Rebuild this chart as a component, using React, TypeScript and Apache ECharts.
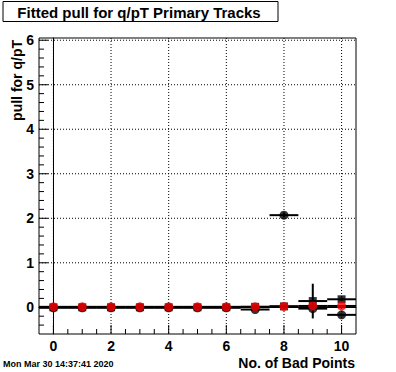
import React, { useEffect, useRef } from "react";
import * as echarts from "echarts";

// ---- data ----
const xBins = [0, 1, 2, 3, 4, 5, 6, 7, 8, 9, 10];
const xHalfWidth = [0.5, 0.5, 0.5, 0.5, 0.5, 0.5, 0.5, 0.5, 0.5, 0.5, 0.5];
const blackCircleMean = [-0.01, -0.01, -0.01, -0.01, -0.01, -0.01, -0.01, -0.05, 2.07, -0.03, -0.17];
const blackCircleErr = [0.01, 0.01, 0.01, 0.01, 0.01, 0.01, 0.01, 0.02, 0.05, 0.03, 0.03];
const blackSquareMean = [0, 0, 0, 0, 0, 0, 0, 0.01, 0.02, 0.14, 0.18];
const blackSquareErr = [0.01, 0.01, 0.01, 0.01, 0.01, 0.01, 0.01, 0.02, 0.03, 0.39, 0.04];
const redMean = [0.01, 0.01, 0.01, 0.01, 0.01, 0.01, 0.01, 0.01, 0.02, 0.03, 0.03];
const redErr = [0.01, 0.01, 0.01, 0.01, 0.01, 0.01, 0.01, 0.01, 0.01, 0.01, 0.01];

// ---- axes ----
const X_MIN = -0.5;
const X_MAX = 10.5;
const Y_MIN = -0.6;
const Y_MAX = 6.05;
const xMajorTicks = [0, 2, 4, 6, 8, 10];
const xMinorTicks = [0.5, 1, 1.5, 2.5, 3, 3.5, 4.5, 5, 5.5, 6.5, 7, 7.5, 8.5, 9, 9.5];
const yMajorTicks = [0, 1, 2, 3, 4, 5, 6];
const yMinorTicks = [
  -0.4, -0.2, 0.2, 0.4, 0.6, 0.8, 1.2, 1.4, 1.6, 1.8, 2.2, 2.4, 2.6, 2.8,
  3.2, 3.4, 3.6, 3.8, 4.2, 4.4, 4.6, 4.8, 5.2, 5.4, 5.6, 5.8,
];

const TITLE = "Fitted pull for q/pT Primary Tracks";
const X_NAME = "No. of Bad Points";
const Y_NAME = "pull for q/pT";
const DATE_TEXT = "Mon Mar 30 14:37:41 2020";

const FONT = "'Liberation Sans', Arial, Helvetica, sans-serif";

function errorSeries(mean: number[], err: number[]) {
  return {
    type: "custom",
    z: 3,
    data: xBins.map((x, i) => [x, mean[i], xHalfWidth[i], err[i]]),
    renderItem: (params: any, api: any) => {
      const x = api.value(0);
      const y = api.value(1);
      const ex = api.value(2);
      const ey = api.value(3);
      const h0 = api.coord([x - ex, y]);
      const h1 = api.coord([x + ex, y]);
      const v0 = api.coord([x, y - ey]);
      const v1 = api.coord([x, y + ey]);
      const style = { stroke: "#000", lineWidth: 2 };
      return {
        type: "group",
        children: [
          { type: "line", shape: { x1: h0[0], y1: h0[1], x2: h1[0], y2: h1[1] }, style },
          { type: "line", shape: { x1: v0[0], y1: v0[1], x2: v1[0], y2: v1[1] }, style },
        ],
      };
    },
  };
}

function xTickSeries(values: number[], len: number, grid: boolean) {
  return {
    type: "custom",
    z: 1,
    silent: true,
    data: values.map((v) => [v, 0]),
    renderItem: (params: any, api: any) => {
      const cs = params.coordSys;
      const p = api.coord([api.value(0), 0]);
      const bottom = cs.y + cs.height;
      const children: any[] = [
        {
          type: "line",
          shape: { x1: p[0], y1: bottom, x2: p[0], y2: bottom - len },
          style: { stroke: "#000", lineWidth: 1 },
        },
      ];
      if (grid) {
        children.push({
          type: "line",
          shape: { x1: p[0], y1: cs.y, x2: p[0], y2: bottom },
          style: { stroke: "#000", lineWidth: 1, lineDash: [1, 2] },
        });
      }
      return { type: "group", children };
    },
  };
}

function yTickSeries(values: number[], len: number, grid: boolean) {
  return {
    type: "custom",
    z: 1,
    silent: true,
    data: values.map((v) => [0, v]),
    renderItem: (params: any, api: any) => {
      const cs = params.coordSys;
      const p = api.coord([0, api.value(1)]);
      const left = cs.x;
      const children: any[] = [
        {
          type: "line",
          shape: { x1: left, y1: p[1], x2: left + len, y2: p[1] },
          style: { stroke: "#000", lineWidth: 1 },
        },
      ];
      if (grid) {
        children.push({
          type: "line",
          shape: { x1: left, y1: p[1], x2: cs.x + cs.width, y2: p[1] },
          style: { stroke: "#000", lineWidth: 1, lineDash: [1, 2] },
        });
      }
      return { type: "group", children };
    },
  };
}

export default function App() {
  const ref = useRef<HTMLDivElement>(null);

  useEffect(() => {
    if (!ref.current) return;
    const chart = echarts.init(ref.current, undefined, { renderer: "svg" });
    const option: any = {
      animation: false,
      backgroundColor: "#fff",
      grid: {
        left: 39,
        right: 40,
        top: 38,
        bottom: 38,
        show: true,
        borderColor: "#000",
        borderWidth: 1,
        backgroundColor: "transparent",
      },
      xAxis: {
        type: "value",
        min: X_MIN,
        max: X_MAX,
        axisLine: { show: true, lineStyle: { color: "#000", width: 1 } },
        axisTick: { show: false },
        splitLine: { show: false },
        axisLabel: {
          customValues: xMajorTicks,
          color: "#000",
          fontFamily: FONT,
          fontWeight: "bold",
          fontSize: 14,
          margin: 5,
        },
      },
      yAxis: {
        type: "value",
        min: Y_MIN,
        max: Y_MAX,
        axisLine: { show: true, lineStyle: { color: "#000", width: 1 } },
        axisTick: { show: false },
        splitLine: { show: false },
        axisLabel: {
          customValues: yMajorTicks,
          color: "#000",
          fontFamily: FONT,
          fontWeight: "bold",
          fontSize: 14,
          margin: 5,
        },
      },
      graphic: [
        {
          type: "rect",
          shape: { x: 3, y: 1.5, width: 275, height: 20 },
          style: { fill: "#fff", stroke: "#000", lineWidth: 1 },
        },
        {
          type: "text",
          x: 139,
          y: 12,
          style: {
            text: TITLE,
            fill: "#000",
            font: `bold 15px ${FONT}`,
            align: "center",
            verticalAlign: "middle",
          },
        },
        {
          type: "text",
          x: 17,
          y: 40,
          rotation: Math.PI / 2,
          style: {
            text: Y_NAME,
            fill: "#000",
            font: `bold 14px ${FONT}`,
            align: "right",
            verticalAlign: "middle",
          },
        },
        {
          type: "text",
          x: 355,
          y: 363,
          style: {
            text: X_NAME,
            fill: "#000",
            font: `bold 14px ${FONT}`,
            align: "right",
            verticalAlign: "middle",
          },
        },
        {
          type: "text",
          x: 3,
          y: 364,
          style: {
            text: DATE_TEXT,
            fill: "#000",
            font: `bold 9px ${FONT}`,
            align: "left",
            verticalAlign: "middle",
          },
        },
      ],
      series: [
        xTickSeries(xMajorTicks, 9, true),
        xTickSeries(xMinorTicks, 5, false),
        yTickSeries(yMajorTicks, 9, true),
        yTickSeries(yMinorTicks, 5, false),
        errorSeries(blackCircleMean, blackCircleErr),
        errorSeries(blackSquareMean, blackSquareErr),
        errorSeries(redMean, redErr),
        {
          type: "scatter",
          z: 4,
          symbol: "circle",
          symbolSize: 9,
          itemStyle: { color: "#000" },
          data: xBins.map((x, i) => [x, blackCircleMean[i]]),
        },
        {
          type: "scatter",
          z: 4,
          symbol: "rect",
          symbolSize: 8,
          itemStyle: { color: "#000" },
          data: xBins.map((x, i) => [x, blackSquareMean[i]]),
        },
        {
          type: "scatter",
          z: 5,
          symbol: "circle",
          symbolSize: 9,
          itemStyle: { color: "#ff0000" },
          data: xBins.map((x, i) => [x, redMean[i]]),
        },
      ],
    };
    chart.setOption(option);
    return () => chart.dispose();
  }, []);

  return (
    <div
      ref={ref}
      style={{ position: "fixed", left: 0, top: 0, width: 396, height: 372, background: "#fff" }}
    />
  );
}
